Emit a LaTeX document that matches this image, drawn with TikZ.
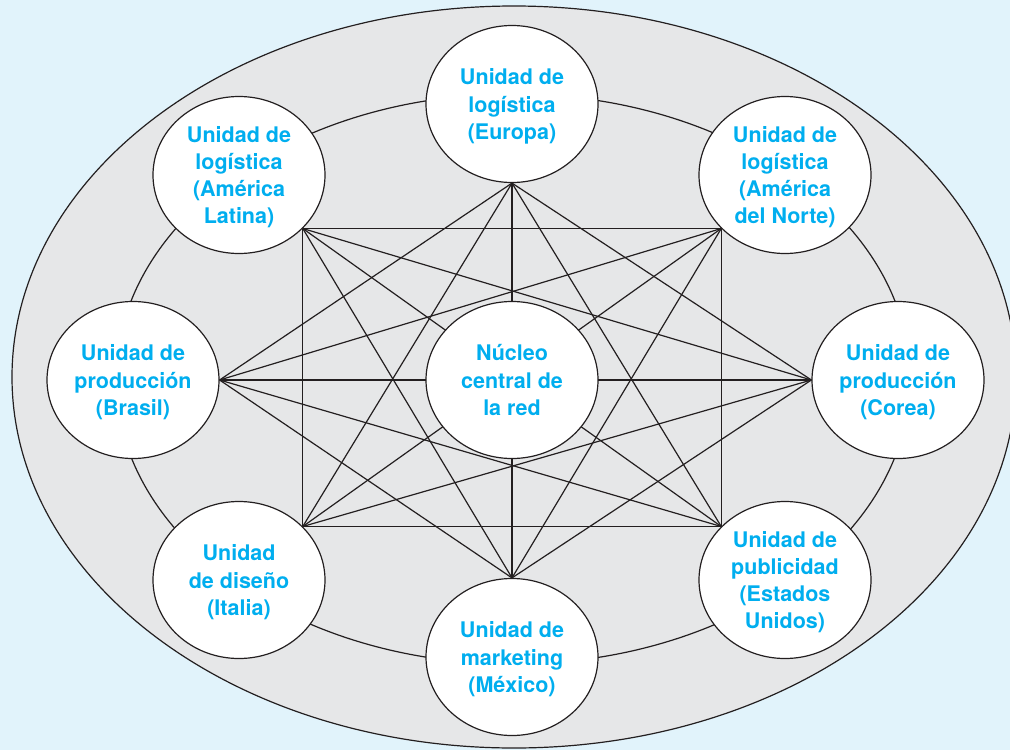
\documentclass[tikz,border=0pt]{standalone}
\usepackage{fontspec}
\setmainfont{TeX Gyre Heros}
\usetikzlibrary{shapes.geometric}
\definecolor{bgblue}{HTML}{E1F3FB}
\definecolor{ringgray}{HTML}{E6E7E8}
\definecolor{txtblue}{HTML}{00AEEF}
\definecolor{ink}{HTML}{231F20}
\begin{document}
\begin{tikzpicture}[x=1pt,y=-1pt,
  unit/.style={ellipse, draw=ink, line width=1.2pt, fill=white,
    minimum width=172pt, minimum height=157pt, inner sep=0pt, align=center,
    text depth=0pt, text=txtblue, font=\fontsize{21.5}{27.2}\selectfont\bfseries},
  link/.style={draw=ink, line width=1.2pt}]
\useasboundingbox (0,0) rectangle (1010,750);
\fill[bgblue] (0,0) rectangle (1010,750);
\begin{scope}
  \clip (0,0) rectangle (1010,750);
  \draw[ink, line width=1.2pt, fill=ringgray] (514,377) ellipse [x radius=502, y radius=371];
\end{scope}
\draw[ink, line width=1.2pt] (513,379) ellipse [x radius=397, y radius=285];

\node[unit] (Eu) at (512,104) {Unidad de\\logística\\(Europa)};
\node[unit] (AL) at (239,175) {Unidad de\\logística\\(América\\Latina)};
\node[unit] (AN) at (785,175) {Unidad de\\logística\\(América\\del Norte)};
\node[unit] (Br) at (133,380) {Unidad de\\producción\\(Brasil)};
\node[unit] (Co) at (898,380) {Unidad de\\producción\\(Corea)};
\node[unit] (It) at (239,580) {Unidad\\de diseño\\(Italia)};
\node[unit] (US) at (785,580) {Unidad de\\publicidad\\(Estados\\Unidos)};
\node[unit] (Mx) at (512,657) {Unidad de\\marketing\\(México)};

\coordinate (p1) at (Eu.south);
\coordinate (p2) at (AN.-140);
\coordinate (p3) at (Co.west);
\coordinate (p4) at (US.140);
\coordinate (p5) at (Mx.north);
\coordinate (p6) at (It.40);
\coordinate (p7) at (Br.east);
\coordinate (p8) at (AL.-40);

\foreach \a/\b in {1/3,1/4,1/5,1/6,1/7,2/4,2/5,2/6,2/7,2/8,3/5,3/6,3/7,3/8,4/6,4/7,4/8,5/7,5/8,6/8}
  \draw[link] (p\a) -- (p\b);

\node[unit] (C) at (512,380) {Núcleo\\central de\\la red};
\end{tikzpicture}
\end{document}
